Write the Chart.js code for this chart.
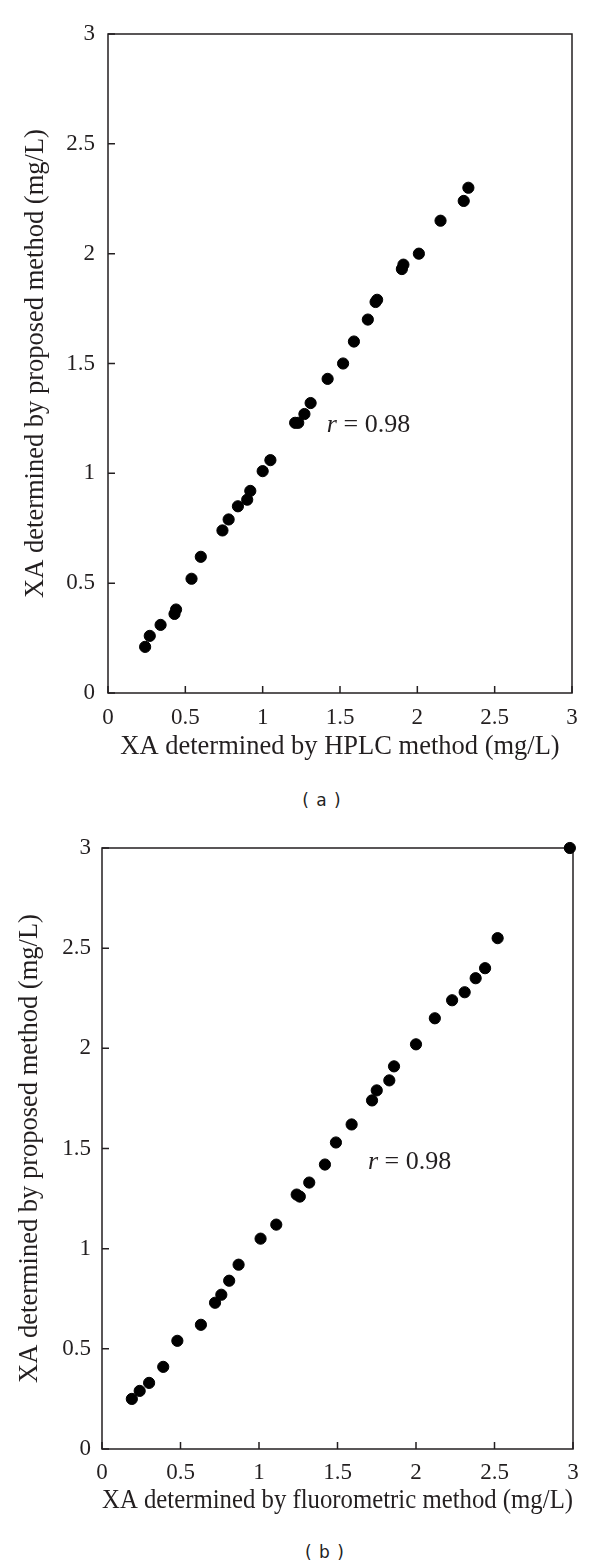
<!DOCTYPE html>
<html>
<head>
<meta charset="utf-8">
<script src="https://cdn.jsdelivr.net/npm/chart.js@4.4.1/dist/chart.umd.min.js"></script>
<style>
    body { margin: 0; background: #fff; }
    #page { position: relative; width: 600px; height: 1567px; }
    .panel { position: absolute; left: 0; }
    .caption {
        position: absolute;
        width: 120px;
        text-align: center;
        font-family: "DejaVu Sans", sans-serif;
        font-size: 17px;
        letter-spacing: 1px;
        color: #222;
        line-height: 17px;
    }
</style>
</head>
<body>
<div id="page">
    <div class="panel" style="top:0px"><canvas id="chartA" width="600" height="790"></canvas></div>
    <div class="caption" style="left:262px; top:792px;">( a )</div>
    <div class="panel" style="top:810px"><canvas id="chartB" width="600" height="720"></canvas></div>
    <div class="caption" style="left:265px; top:1544px;">( b )</div>
</div>
<script>
// Panel (a): HPLC vs proposed method (mg/L)
const hplcValues = [0.24, 0.27, 0.34, 0.43, 0.44, 0.54, 0.60, 0.74, 0.78, 0.84, 0.90, 0.92, 1.00, 1.05,
    1.21, 1.23, 1.27, 1.31, 1.42, 1.52, 1.59, 1.68, 1.73, 1.74, 1.90, 1.91, 2.01, 2.15, 2.30, 2.33];
const proposedA = [0.21, 0.26, 0.31, 0.36, 0.38, 0.52, 0.62, 0.74, 0.79, 0.85, 0.88, 0.92, 1.01, 1.06,
    1.23, 1.23, 1.27, 1.32, 1.43, 1.50, 1.60, 1.70, 1.78, 1.79, 1.93, 1.95, 2.00, 2.15, 2.24, 2.30];

// Panel (b): fluorometric vs proposed method (mg/L)
const fluoroValues = [0.19, 0.24, 0.30, 0.39, 0.48, 0.63, 0.72, 0.76, 0.81, 0.87, 1.01, 1.11, 1.24, 1.26,
    1.32, 1.42, 1.49, 1.59, 1.72, 1.75, 1.83, 1.86, 2.00, 2.12, 2.23, 2.31, 2.38, 2.44, 2.52, 2.98];
const proposedB = [0.25, 0.29, 0.33, 0.41, 0.54, 0.62, 0.73, 0.77, 0.84, 0.92, 1.05, 1.12, 1.27, 1.26,
    1.33, 1.42, 1.53, 1.62, 1.74, 1.79, 1.84, 1.91, 2.02, 2.15, 2.24, 2.28, 2.35, 2.40, 2.55, 3.00];

// Axis range and tick labels (same for both panels)
const axisMin = 0;
const axisMax = 3;
const tickStep = 0.5;
const tickLabels = ['0', '0.5', '1', '1.5', '2', '2.5', '3'];

// Correlation labels: anchor in data units
const rValue = '0.98';
const rAnchorA = [1.415, 1.22];
const rAnchorB = [1.694, 1.43];

const SERIF = '"Liberation Serif", "Times New Roman", serif';
const INK = '#231f20';
const TICK_LEN = 7;

// Draws the closed box round the plot area plus inward tick marks
const plotFrame = {
    id: 'plotFrame',
    beforeDatasetsDraw(chart) {
        const { ctx, chartArea: a, scales } = chart;
        ctx.save();
        ctx.strokeStyle = INK;
        ctx.lineWidth = 1.5;
        ctx.strokeRect(a.left, a.top, a.right - a.left, a.bottom - a.top);
        ctx.beginPath();
        scales.x.ticks.forEach(t => {
            const px = scales.x.getPixelForValue(t.value);
            ctx.moveTo(px, a.bottom);
            ctx.lineTo(px, a.bottom - TICK_LEN);
        });
        scales.y.ticks.forEach(t => {
            const py = scales.y.getPixelForValue(t.value);
            ctx.moveTo(a.left, py);
            ctx.lineTo(a.left + TICK_LEN, py);
        });
        ctx.stroke();
        ctx.restore();
    }
};

// Writes "r = 0.98" with an italic r, placed through the scales
const rLabel = {
    id: 'rLabel',
    afterDatasetsDraw(chart, args, opts) {
        const { ctx, scales } = chart;
        const x = scales.x.getPixelForValue(opts.at[0]);
        const y = scales.y.getPixelForValue(opts.at[1]);
        ctx.save();
        ctx.fillStyle = INK;
        ctx.textBaseline = 'middle';
        ctx.textAlign = 'left';
        ctx.font = 'italic 26px ' + SERIF;
        ctx.fillText('r', x, y);
        const w = ctx.measureText('r').width;
        ctx.font = '26px ' + SERIF;
        ctx.fillText(' = ' + opts.text, x + w, y);
        ctx.restore();
    }
};

function toPoints(xs, ys) {
    return xs.map((x, i) => ({ x: x, y: ys[i] }));
}

function tickText(value, index) {
    return tickLabels[index];
}

function makeChart(canvasId, cfg) {
    const ctx = document.getElementById(canvasId).getContext('2d');
    const axisGrid = { display: true, drawOnChartArea: false, drawTicks: false };
    return new Chart(ctx, {
        type: 'scatter',
        data: {
            datasets: [{
                data: toPoints(cfg.xs, cfg.ys),
                backgroundColor: '#000',
                borderColor: '#000',
                pointRadius: 5.6,
                pointHoverRadius: 5.6,
                clip: false
            }]
        },
        options: {
            responsive: false,
            animation: false,
            events: [],
            layout: { padding: { top: cfg.top, right: 600 - cfg.right, left: 0, bottom: 0 } },
            plugins: {
                legend: { display: false },
                tooltip: { enabled: false },
                rLabel: { at: cfg.rAt, text: rValue }
            },
            scales: {
                x: {
                    type: 'linear',
                    min: axisMin,
                    max: axisMax,
                    border: { display: false },
                    grid: axisGrid,
                    ticks: {
                        stepSize: tickStep,
                        padding: cfg.xTickPad,
                        color: INK,
                        font: { family: SERIF, size: 23 },
                        callback: tickText
                    },
                    title: {
                        display: true,
                        text: cfg.xTitle,
                        color: INK,
                        font: { family: SERIF, size: 26.5, lineHeight: 1 },
                        padding: { top: 0, bottom: cfg.xTitlePad }
                    },
                    afterFit(scale) { scale.height = cfg.xAxisHeight; }
                },
                y: {
                    type: 'linear',
                    min: axisMin,
                    max: axisMax,
                    border: { display: false },
                    grid: axisGrid,
                    ticks: {
                        stepSize: tickStep,
                        padding: cfg.yTickPad,
                        color: INK,
                        font: { family: SERIF, size: 23 },
                        callback: tickText
                    },
                    title: {
                        display: true,
                        text: 'XA determined by proposed method (mg/L)',
                        color: INK,
                        font: { family: SERIF, size: 26.5, lineHeight: 1 },
                        padding: { top: cfg.yTitlePad, bottom: 0 }
                    },
                    afterFit(scale) { scale.width = cfg.left; }
                }
            }
        },
        plugins: [plotFrame, rLabel]
    });
}

makeChart('chartA', {
    xs: hplcValues, ys: proposedA,
    xTitle: 'XA determined by HPLC method (mg/L)',
    left: 108, right: 572, top: 34, xAxisHeight: 790 - 693,
    xTickPad: 11, yTickPad: 13, xTitlePad: 30, yTitlePad: 23,
    rAt: rAnchorA
});

makeChart('chartB', {
    xs: fluoroValues, ys: proposedB,
    xTitle: 'XA determined by fluorometric method (mg/L)',
    left: 102, right: 573, top: 38, xAxisHeight: 720 - 639,
    xTickPad: 10, yTickPad: 11, xTitlePad: 16, yTitlePad: 17,
    rAt: rAnchorB
});
</script>
</body>
</html>
